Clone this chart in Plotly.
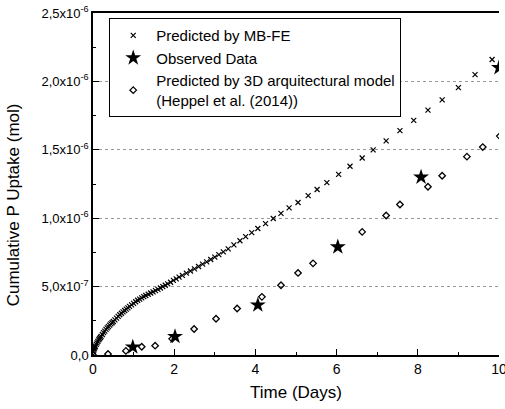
import plotly.graph_objects as go

# Predicted by MB-FE (time in days, uptake in 1e-6 mol)
mbfe_t = [0.00, 0.01, 0.02, 0.03, 0.04, 0.05, 0.06, 0.08, 0.10, 0.12, 0.14, 0.16, 0.18, 0.20,
          0.23, 0.26, 0.29, 0.32, 0.35, 0.38, 0.41, 0.44, 0.47, 0.50, 0.54, 0.58, 0.62, 0.66,
          0.70, 0.74, 0.78, 0.82, 0.86, 0.90, 0.95, 1.00, 1.05, 1.10, 1.15, 1.20, 1.25, 1.30,
          1.36, 1.42, 1.48, 1.54, 1.60, 1.66, 1.72, 1.78, 1.84, 1.91, 1.98, 2.05, 2.12, 2.20,
          2.30, 2.40, 2.50, 2.60, 2.70, 2.80, 2.90, 3.00, 3.10, 3.21, 3.33, 3.47, 3.62, 3.76,
          3.91, 4.06, 4.25, 4.44, 4.63, 4.83, 5.05, 5.30, 5.52, 5.76, 6.05, 6.33, 6.63, 6.90,
          7.22, 7.56, 7.90, 8.25, 8.60, 9.00, 9.41, 9.83]
mbfe_y = [0.000, 0.025, 0.036, 0.045, 0.052, 0.059, 0.065, 0.078, 0.089, 0.100, 0.110, 0.119,
          0.128, 0.136, 0.150, 0.163, 0.175, 0.187, 0.198, 0.208, 0.218, 0.227, 0.236, 0.245,
          0.257, 0.270, 0.282, 0.294, 0.305, 0.315, 0.325, 0.335, 0.345, 0.355, 0.366, 0.377,
          0.389, 0.400, 0.409, 0.418, 0.427, 0.435, 0.444, 0.453, 0.462, 0.471, 0.480, 0.490,
          0.500, 0.510, 0.520, 0.532, 0.545, 0.557, 0.569, 0.582, 0.598, 0.614, 0.630, 0.647,
          0.664, 0.681, 0.698, 0.716, 0.734, 0.754, 0.776, 0.805, 0.835, 0.865, 0.895, 0.925,
          0.960, 0.998, 1.035, 1.075, 1.115, 1.165, 1.210, 1.260, 1.320, 1.380, 1.440, 1.500,
          1.565, 1.640, 1.715, 1.790, 1.865, 1.955, 2.050, 2.160]

# Observed data
obs_t = [0.98, 2.02, 4.06, 6.03, 8.08, 10.0]
obs_y = [0.058, 0.135, 0.365, 0.79, 1.30, 2.10]

# Predicted by 3D architectural model (Heppel et al. 2014)
arch_t = [0.0, 0.37, 0.81, 1.20, 1.53, 1.95, 2.49, 3.03, 3.55, 4.16, 4.63, 5.05, 5.42,
          6.63, 7.22, 7.56, 8.25, 8.60, 9.21, 9.60, 10.02]
arch_y = [0.0, 0.007, 0.030, 0.060, 0.068, 0.118, 0.190, 0.265, 0.340, 0.425, 0.510, 0.600,
          0.670, 0.900, 1.020, 1.100, 1.230, 1.310, 1.450, 1.520, 1.600]

x_ticks = [0, 2, 4, 6, 8, 10]
y_ticks = [0, 0.5, 1.0, 1.5, 2.0, 2.5]
y_ticktext = ["0,0", "5,0x10<sup>-7</sup>", "1,0x10<sup>-6</sup>", "1,5x10<sup>-6</sup>",
              "2,0x10<sup>-6</sup>", "2,5x10<sup>-6</sup>"]

FONT = "Liberation Sans, Arial, sans-serif"

fig = go.Figure()
fig.add_trace(go.Scatter(x=mbfe_t, y=mbfe_y, mode="markers", name="Predicted by MB-FE",
                         marker=dict(symbol="x-thin-open", size=5, color="black",
                                     line=dict(width=1.2, color="black"))))
fig.add_trace(go.Scatter(x=obs_t, y=obs_y, mode="markers", name="Observed Data",
                         marker=dict(symbol="star", size=12, color="black",
                                     line=dict(width=0))))
fig.add_trace(go.Scatter(x=arch_t, y=arch_y, mode="markers",
                         name="Predicted by 3D arquitectural model<br>(Heppel et al. (2014))",
                         marker=dict(symbol="diamond-open", size=5, color="black",
                                     line=dict(width=1.3, color="black"))))

fig.update_layout(
    width=505, height=409,
    margin=dict(l=93, r=6, t=13, b=54, autoexpand=False),
    paper_bgcolor="white", plot_bgcolor="white",
    font=dict(family=FONT, color="black", size=13),
    showlegend=True,
    legend=dict(x=0.04, y=0.985, xanchor="left", yanchor="top",
                bgcolor="white", bordercolor="black", borderwidth=1,
                font=dict(family=FONT, size=15, color="black"),
                tracegroupgap=0, itemwidth=36),
    xaxis=dict(range=[0, 10], tickvals=x_ticks, ticktext=[str(v) for v in x_ticks],
               ticks="inside", ticklen=6, tickwidth=1, tickcolor="black",
               showline=True, linecolor="black", linewidth=1.5, mirror=True,
               showgrid=False, zeroline=False, ticklabeloverflow="allow",
               automargin=False, tickfont=dict(size=14),
               minor=dict(dtick=1, ticks="inside", ticklen=3, tickcolor="black", showgrid=False),
               title=dict(text="Time (Days)", font=dict(size=17), standoff=11)),
    yaxis=dict(range=[0, 2.5], tickvals=y_ticks, ticktext=y_ticktext,
               ticks="inside", ticklen=6, tickwidth=1, tickcolor="black",
               showline=True, linecolor="black", linewidth=1.5,
               showgrid=True, gridcolor="#999999", gridwidth=1, griddash="dot",
               zeroline=False, automargin=False, tickfont=dict(size=13),
               minor=dict(dtick=0.25, tick0=0, ticks="inside", ticklen=3, tickcolor="black",
                          showgrid=False)),
    annotations=[dict(text="Cumulative P Uptake (mol)", textangle=-90,
                      xref="paper", yref="paper", x=-0.195, y=0.44,
                      xanchor="center", yanchor="middle", showarrow=False,
                      font=dict(family=FONT, size=17, color="black"))],
)

fig.write_html("out.html", config={"displayModeBar": False},
               post_script="document.body.style.margin='0px';")
